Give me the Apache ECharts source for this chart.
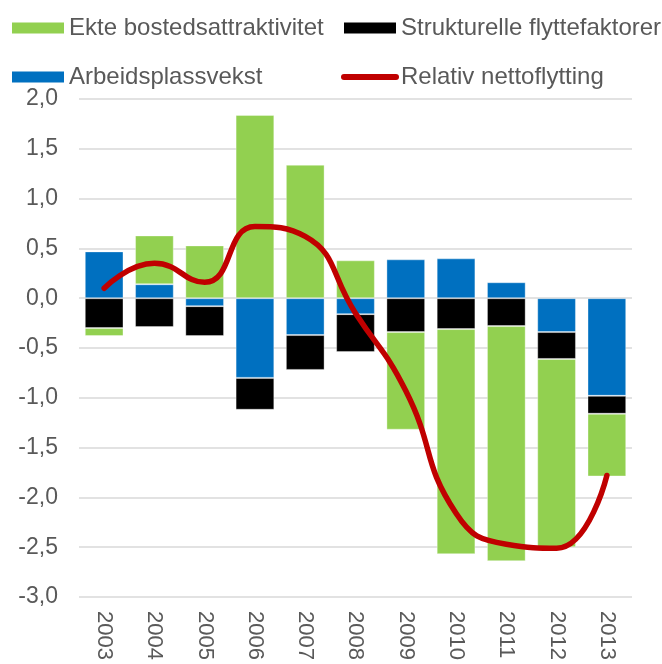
<!DOCTYPE html>
<html>
<head>
<meta charset="utf-8">
<script src="https://cdn.jsdelivr.net/npm/echarts@6/dist/echarts.min.js"></script>
<style>
  html, body { margin: 0; padding: 0; background: #ffffff; }
  #chart { width: 662px; height: 664px; }
</style>
</head>
<body>
<div id="chart"></div>
<script>
// Years on the category axis
const years = ['2003', '2004', '2005', '2006', '2007', '2008', '2009', '2010', '2011', '2012', '2013'];

// Decomposition of relative net migration (stacked components)
const arbeidsplassvekst = [0.47, 0.14, -0.08, -0.80, -0.37, -0.16, 0.39, 0.40, 0.16, -0.34, -0.98];
const strukturelle = [-0.30, -0.29, -0.30, -0.32, -0.35, -0.38, -0.34, -0.31, -0.28, -0.27, -0.18];
const ekteBosted = [-0.08, 0.49, 0.53, 1.84, 1.34, 0.38, -0.98, -2.26, -2.36, -1.89, -0.63];

// Total relative net migration (line)
const nettoflytting = [0.10, 0.35, 0.16, 0.72, 0.62, -0.15, -0.93, -2.16, -2.47, -2.51, -1.78];

// Value axis range
const yMin = -3.0;
const yMax = 2.0;
const yStep = 0.5;

const NAME_EKTE = 'Ekte bostedsattraktivitet';
const NAME_STRUKT = 'Strukturelle flyttefaktorer';
const NAME_ARB = 'Arbeidsplassvekst';
const NAME_NETTO = 'Relativ nettoflytting';

const FONT = "'Liberation Sans', Arial, sans-serif";
const TEXT_COLOR = '#595959';
const GRID_COLOR = '#d9d9d9';

const chart = echarts.init(document.getElementById('chart'), null, { renderer: 'canvas' });

const barBorder = { borderColor: 'rgba(255,255,255,0.35)', borderWidth: 1 };

function legendBlock(left, items) {
  return {
    orient: 'vertical',
    left: left,
    top: 16,
    padding: 0,
    itemWidth: 52,
    itemHeight: 11,
    itemGap: 25,
    selectedMode: false,
    textStyle: { color: TEXT_COLOR, fontSize: 24, fontFamily: FONT },
    itemStyle: { borderWidth: 0 },
    lineStyle: { width: 6, cap: 'round' },
    data: items
  };
}

const option = {
  animation: false,
  backgroundColor: '#ffffff',
  textStyle: { fontFamily: FONT },
  legend: [
    legendBlock(12, [
      { name: NAME_EKTE, icon: 'rect' },
      { name: NAME_ARB, icon: 'rect' }
    ]),
    legendBlock(341, [
      { name: NAME_STRUKT, icon: 'rect' },
      { name: NAME_NETTO, itemStyle: { opacity: 0 } }
    ])
  ],
  grid: {
    left: 79,
    right: 30,
    top: 99,
    bottom: 67,
    outerBoundsMode: 'none'
  },
  xAxis: {
    type: 'category',
    data: years,
    axisLine: { show: false },
    axisTick: { show: false },
    axisLabel: {
      rotate: -90,
      margin: 14,
      color: TEXT_COLOR,
      fontSize: 22,
      fontFamily: FONT,
      padding: [6, 0, 0, 0],
      interval: 0
    }
  },
  yAxis: {
    type: 'value',
    min: yMin,
    max: yMax,
    interval: yStep,
    axisLine: { show: false },
    axisTick: { show: false },
    splitLine: { lineStyle: { color: GRID_COLOR, width: 1.5 } },
    axisLabel: {
      margin: 21,
      color: TEXT_COLOR,
      fontSize: 23,
      fontFamily: FONT,
      formatter: function (v) { return v.toFixed(1).replace('.', ','); }
    }
  },
  series: [
    {
      name: NAME_ARB,
      type: 'bar',
      stack: 'komponenter',
      barCategoryGap: '23%',
      itemStyle: Object.assign({ color: '#0070C0' }, barBorder),
      data: arbeidsplassvekst
    },
    {
      name: NAME_STRUKT,
      type: 'bar',
      stack: 'komponenter',
      barCategoryGap: '23%',
      itemStyle: Object.assign({ color: '#000000' }, barBorder),
      data: strukturelle
    },
    {
      name: NAME_EKTE,
      type: 'bar',
      stack: 'komponenter',
      barCategoryGap: '23%',
      itemStyle: Object.assign({ color: '#92D050' }, barBorder),
      data: ekteBosted
    },
    {
      name: NAME_NETTO,
      type: 'line',
      data: nettoflytting,
      smooth: 0.5,
      symbol: 'none',
      z: 5,
      itemStyle: { color: '#C00000' },
      lineStyle: { color: '#C00000', width: 5.5, cap: 'round', join: 'round' }
    }
  ]
};

chart.setOption(option);
</script>
</body>
</html>
